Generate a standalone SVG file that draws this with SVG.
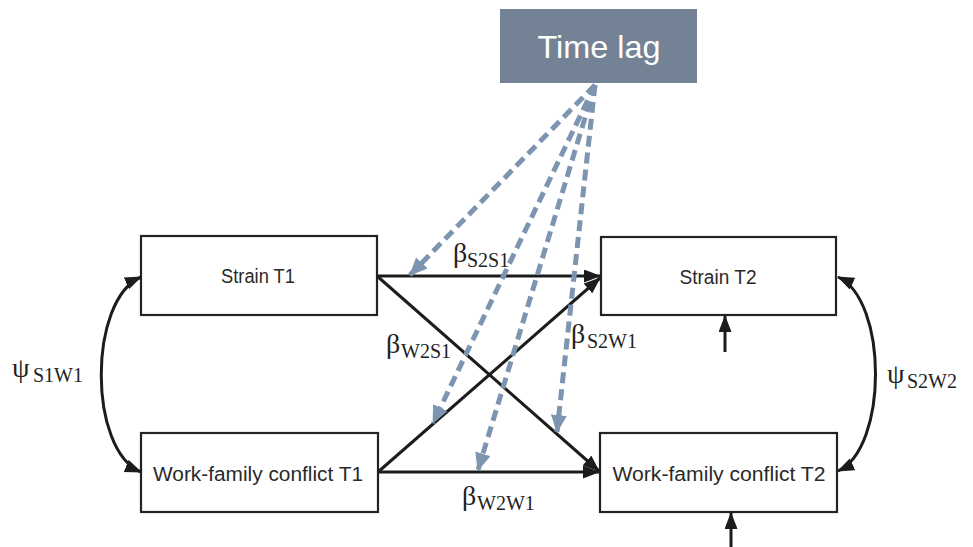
<svg xmlns="http://www.w3.org/2000/svg" width="973" height="547" viewBox="0 0 973 547">
  <style>
    .box { fill: #ffffff; stroke: #232323; stroke-width: 2.2; }
    .lbl { font-family: "Liberation Sans", Arial, sans-serif; font-size: 19.5px; fill: #2a2a2a; text-anchor: middle; }
    .tl { font-family: "Liberation Sans", Arial, sans-serif; font-size: 32px; fill: #ffffff; text-anchor: middle; }
    .solid { fill: none; stroke: #1c1c1c; stroke-width: 3; marker-end: url(#ah); }
    .dual { fill: none; stroke: #1c1c1c; stroke-width: 3; marker-start: url(#ah2); marker-end: url(#ah2); }
    .dash { fill: none; stroke: #7d95b0; stroke-width: 5; stroke-dasharray: 11 6; marker-end: url(#dh); }
    .gk { font-family: "Liberation Serif", "Times New Roman", serif; font-size: 28px; fill: #222222; }
    .sub { font-size: 20px; }
  </style>
  <defs>
    <marker id="ah" markerUnits="userSpaceOnUse" markerWidth="17" markerHeight="13" viewBox="0 0 17 13" refX="16" refY="6.5" orient="auto">
      <path d="M0,0 L17,6.5 L0,13 Z" fill="#1c1c1c"/>
    </marker>
    <marker id="ah2" markerUnits="userSpaceOnUse" markerWidth="17" markerHeight="13" viewBox="0 0 17 13" refX="16" refY="6.5" orient="auto-start-reverse">
      <path d="M0,0 L17,6.5 L0,13 Z" fill="#1c1c1c"/>
    </marker>
    <marker id="dh" markerUnits="userSpaceOnUse" markerWidth="18" markerHeight="16" viewBox="0 0 18 16" refX="17" refY="8" orient="auto">
      <path d="M0,0 L18,8 L0,16 Z" fill="#7d95b0"/>
    </marker>
  </defs>

  <g id="node-time-lag">
    <rect x="500" y="9" width="197" height="74" fill="#738395"/>
    <text class="tl" x="599" y="58" textLength="123" lengthAdjust="spacingAndGlyphs">Time lag</text>
  </g>
  <g id="node-strain-t1">
    <rect class="box" x="141" y="236" width="236" height="79"/>
    <text class="lbl" x="258" y="283" textLength="74" lengthAdjust="spacingAndGlyphs">Strain T1</text>
  </g>
  <g id="node-strain-t2">
    <rect class="box" x="601" y="237" width="235" height="78"/>
    <text class="lbl" x="718" y="284" textLength="77" lengthAdjust="spacingAndGlyphs">Strain T2</text>
  </g>
  <g id="node-wfc-t1">
    <rect class="box" x="141" y="433" width="237" height="79"/>
    <text class="lbl" x="258" y="481" textLength="210" lengthAdjust="spacingAndGlyphs">Work-family conflict T1</text>
  </g>
  <g id="node-wfc-t2">
    <rect class="box" x="600" y="433" width="237" height="79"/>
    <text class="lbl" x="719" y="481" textLength="213" lengthAdjust="spacingAndGlyphs">Work-family conflict T2</text>
  </g>

  <g id="connectors">
    <path class="solid" d="M377,276 L600,276"/>
    <path class="solid" d="M377,276 L599,471"/>
    <path class="solid" d="M378,472 L600,278"/>
    <path class="solid" d="M378,472 L599,472"/>
    <path class="solid" d="M725,352 L725,316"/>
    <path class="solid" d="M731,547 L731,513"/>
    <path class="dual" d="M141,277 C88,300 88,450 141,472"/>
    <path class="dual" d="M838,277 C888,300 888,448 838,471"/>
    <path class="dash" d="M595,85 L410,275"/>
    <path class="dash" d="M595,85 L433,423"/>
    <path class="dash" d="M595,85 L478,470"/>
    <path class="dash" d="M595,85 L557,432"/>
  </g>

  <g id="labels">
    <text class="gk" x="453" y="262">β<tspan class="sub" x="467" y="267">S2S1</tspan></text>
    <text class="gk" x="386" y="353">β<tspan class="sub" x="401" y="358">W2S1</tspan></text>
    <text class="gk" x="571" y="343">β<tspan class="sub" x="587" y="348">S2W1</tspan></text>
    <text class="gk" x="462" y="505">β<tspan class="sub" x="477" y="510">W2W1</tspan></text>
    <text class="gk" x="12" y="377">ψ<tspan class="sub" x="33" y="382">S1W1</tspan></text>
    <text class="gk" x="887" y="383">ψ<tspan class="sub" x="907" y="388">S2W2</tspan></text>
  </g>
</svg>
